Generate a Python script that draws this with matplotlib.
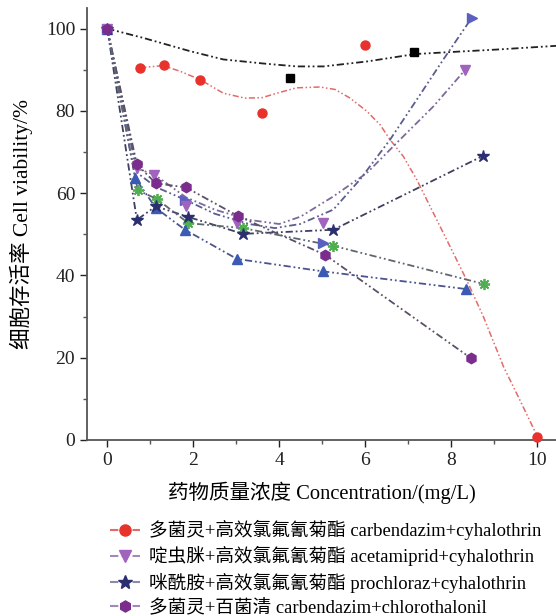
"""
    细胞存活率 vs 药物质量浓度 (复配药剂)
"""
import matplotlib
matplotlib.use('Agg')
import matplotlib.pyplot as plt
from matplotlib.lines import Line2D

plt.rcParams['font.family'] = ['Liberation Serif', 'Noto Sans CJK SC']
plt.rcParams['axes.unicode_minus'] = False

# 多菌灵+高效氯氟氰菊酯 (red)
red_x = [0.77, 1.31, 2.16, 3.6, 6.0, 10.0]
red_y = [90.5, 91.2, 87.6, 79.5, 95.9, 0.8]
red_fit_x = [0.77, 1.3, 1.7, 2.16, 2.7, 3.2, 3.6, 3.95, 4.4, 4.95, 5.3, 5.65, 6.04,
             6.35, 6.58, 6.89, 7.2, 7.51, 7.82, 8.36, 8.75, 9.22, 9.6, 10.0]
red_fit_y = [90.5, 91.0, 89.6, 87.6, 84.3, 83.1, 83.2, 84.3, 85.6, 85.8, 85.2, 83.1, 79.9,
             76.6, 73.0, 68.9, 63.3, 56.8, 50.3, 38.9, 30.0, 17.8, 9.7, 1.0]

# black squares
blk_x = [4.26, 7.14]
blk_y = [88.0, 94.2]
blk_fit_x = [0, 0.85, 1.93, 2.7, 3.64, 4.41, 5.03, 6.04, 7.16, 8.0, 9.06, 10.44]
blk_fit_y = [100, 97.7, 94.5, 92.5, 91.5, 90.8, 90.8, 92.0, 93.8, 94.3, 94.9, 95.8]

# 啶虫脒+高效氯氟氰菊酯 (light purple, down triangles)
ace_x = [0, 0.69, 1.1, 1.83, 3.02, 5.03, 8.33]
ace_y = [100, 66.0, 64.5, 56.8, 52.7, 52.7, 90.0]
ace_fit_x = [0, 0.69, 1.1, 1.83, 2.5, 3.3, 4.0, 4.5, 5.26, 6.04, 6.81, 7.59, 8.33]
ace_fit_y = [100, 66.0, 64.5, 59.0, 56.0, 53.5, 52.5, 54.3, 59.2, 64.9, 73.0, 81.1, 90.0]

# blue right triangles
rt_x = [0, 1.81, 5.01, 8.48]
rt_y = [100, 58.4, 47.8, 102.6]
rt_fit_x = [0, 0.69, 1.13, 1.81, 2.5, 3.3, 3.9, 4.49, 5.26, 5.88, 6.58, 7.2, 7.82, 8.48]
rt_fit_y = [100, 65.0, 61.5, 58.4, 55.0, 52.5, 51.5, 52.5, 56.0, 63.3, 73.0, 82.7, 92.5, 102.6]

# 咪酰胺+高效氯氟氰菊酯 (navy stars)
pro_x = [0, 0.69, 1.13, 1.89, 3.16, 5.26, 8.75]
pro_y = [100, 53.5, 56.8, 54.2, 50.1, 51.1, 69.1]

# 多菌灵+百菌清 (purple hexagons)
chl_x = [0, 0.69, 1.13, 1.83, 3.05, 5.07, 8.46]
chl_y = [100, 67.0, 62.4, 61.4, 54.4, 45.0, 19.9]

# blue up triangles
up_x = [0, 0.65, 1.13, 1.81, 3.02, 5.01, 8.34]
up_y = [100, 63.7, 56.4, 51.1, 44.0, 41.0, 36.7]

# green asterisks
grn_x = [0, 0.71, 1.15, 1.89, 3.16, 5.26, 8.77]
grn_y = [100, 60.7, 58.6, 52.7, 51.5, 47.2, 37.9]

labels = ['多菌灵+高效氯氟氰菊酯 carbendazim+cyhalothrin',
          '啶虫脒+高效氯氟氰菊酯 acetamiprid+cyhalothrin',
          '咪酰胺+高效氯氟氰菊酯 prochloraz+cyhalothrin',
          '多菌灵+百菌清 carbendazim+chlorothalonil']

DASH = (0, (4, 1.6, 1, 1.6, 1, 1.6))


def draw_graph():
    fig = plt.figure(figsize=(5.56, 6.16), dpi=100)
    ax = fig.add_axes([87 / 556, 1 - 440 / 616, 1 - 87 / 556, 432 / 616])

    # fitted / connecting lines
    ax.plot(blk_fit_x, blk_fit_y, color='#222222', lw=1.3, ls=DASH)
    ax.plot(red_fit_x, red_fit_y, color='#e26a6a', lw=1.1, ls=DASH)
    ax.plot(ace_fit_x, ace_fit_y, color='#7d6a98', lw=1.3, ls=DASH)
    ax.plot(rt_fit_x, rt_fit_y, color='#5a5e8e', lw=1.3, ls=DASH)
    ax.plot(pro_x, pro_y, color='#3e4060', lw=1.3, ls=DASH)
    ax.plot(chl_x, chl_y, color='#5b5068', lw=1.3, ls=DASH)
    ax.plot(up_x, up_y, color='#4a5590', lw=1.3, ls=DASH)
    ax.plot(grn_x, grn_y, color='#5f6670', lw=1.3, ls=DASH)

    # markers
    kw = dict(ls='none', clip_on=False, zorder=3)
    ax.plot(red_x, red_y, marker='o', ms=6.5, color='#e8322c', **kw)
    ax.plot(blk_x, blk_y, marker='s', ms=5.5, color='black', **kw)
    ax.plot(grn_x, grn_y, marker=(8, 2, 0), ms=8, mew=1.3, color='#4fae4f', **kw)
    ax.plot(up_x, up_y, marker='^', ms=7, color='#3b5ab5', **kw)
    ax.plot(pro_x, pro_y, marker='*', ms=9, color='#2b2f70', **kw)
    ax.plot(rt_x, rt_y, marker='>', ms=7, color='#5a5fc0', **kw)
    ax.plot(ace_x, ace_y, marker='v', ms=7.5, color='#a064be', **kw)
    ax.plot(chl_x, chl_y, marker='h', ms=7.5, color='#7a2d8c', **kw)

    ax.set_xlim(-0.47, 10.44)
    ax.set_ylim(0, 105)
    ax.set_xticks(range(0, 11, 2))
    ax.set_xticks(range(0, 11, 1), minor=True)
    ax.set_yticks(range(0, 101, 20))
    ax.set_yticks(range(0, 101, 10), minor=True)
    ax.tick_params(which='major', direction='out', length=5, width=1, labelsize=14, colors='#222222')
    ax.tick_params(which='minor', direction='out', length=3, width=1, colors='#555555')
    ax.spines['top'].set_visible(False)
    ax.spines['right'].set_visible(False)
    for s in ['left', 'bottom']:
        ax.spines[s].set_color('#555555')
        ax.spines[s].set_linewidth(1.3)

    ax.set_xlabel('药物质量浓度 Concentration/(mg/L)', fontsize=14.8, labelpad=9)
    ax.set_ylabel('细胞存活率 Cell viability/%', fontsize=15.5, labelpad=9)

    handles = [
        Line2D([], [], color='#e26a6a', ls=DASH, marker='o', ms=8, mfc='#e8322c', mec='#e8322c'),
        Line2D([], [], color='#a08ab8', ls=DASH, marker='v', ms=8, mfc='#a064be', mec='#a064be'),
        Line2D([], [], color='#8a8aaa', ls=DASH, marker='*', ms=10, mfc='#2b2f70', mec='#2b2f70'),
        Line2D([], [], color='#a08ab8', ls=DASH, marker='h', ms=8, mfc='#7a2d8c', mec='#7a2d8c'),
    ]
    fig.legend(handles, labels, loc='upper left', bbox_to_anchor=(110 / 556, 1 - 520 / 616),
               frameon=False, fontsize=13.4, handlelength=1.6, handletextpad=0.5,
               labelspacing=0.33, borderpad=0, borderaxespad=0)

    plt.savefig('out.png', dpi=100)


draw_graph()
